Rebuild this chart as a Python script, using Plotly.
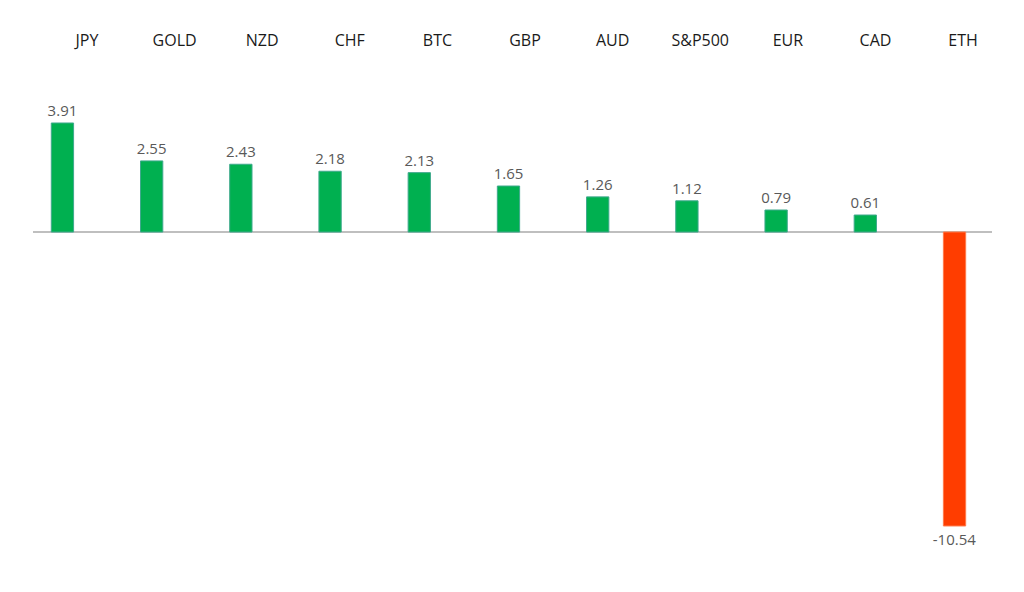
import plotly.graph_objects as go

categories = ["JPY", "GOLD", "NZD", "CHF", "BTC", "GBP", "AUD", "S&P500", "EUR", "CAD", "ETH"]
values = [3.91, 2.55, 2.43, 2.18, 2.13, 1.65, 1.26, 1.12, 0.79, 0.61, -10.54]

POS_COLOR = "#00B050"
NEG_COLOR = "#FF3D00"
colors = [POS_COLOR if v >= 0 else NEG_COLOR for v in values]
edges = ["#3FA98C" if v >= 0 else "#FF7A4A" for v in values]
idx = list(range(len(categories)))

fig = go.Figure()
fig.add_trace(go.Bar(
    x=idx, y=values,
    marker=dict(color=colors, line=dict(color=edges, width=1)),
    width=0.25,
    text=[f"{v:.2f}" for v in values],
    textposition="outside",
    constraintext="none",
    textfont=dict(family="Open Sans, Liberation Sans, sans-serif", size=15, color="#595959"),
    cliponaxis=False,
    showlegend=False,
    hoverinfo="skip",
))
# invisible trace for the top label axis
fig.add_trace(go.Scatter(x=idx, y=[0]*len(idx), xaxis="x2", mode="markers",
                         marker=dict(opacity=0), showlegend=False, hoverinfo="skip"))

fig.update_layout(
    width=1024, height=592,
    margin=dict(l=25, r=40, t=62, b=40),
    paper_bgcolor="white", plot_bgcolor="white",
    xaxis=dict(range=[-0.33, 10.42], showticklabels=False, showgrid=False,
               zeroline=False, showline=False, ticks=""),
    xaxis2=dict(overlaying="x", side="top", range=[-0.616, 10.33],
                tickmode="array", tickvals=idx, ticktext=categories,
                tickangle=0, ticklabelstandoff=20,
                tickfont=dict(family="Open Sans, Liberation Sans, sans-serif", size=16, color="#1a1a1a"),
                showgrid=False, zeroline=False, showline=False, ticks=""),
    yaxis=dict(range=[-11.76, 5.81], showticklabels=False, showgrid=False,
               zeroline=True, zerolinecolor="#BFBFBF", zerolinewidth=1.5,
               showline=False, ticks=""),
)

fig.write_html("out.html")
